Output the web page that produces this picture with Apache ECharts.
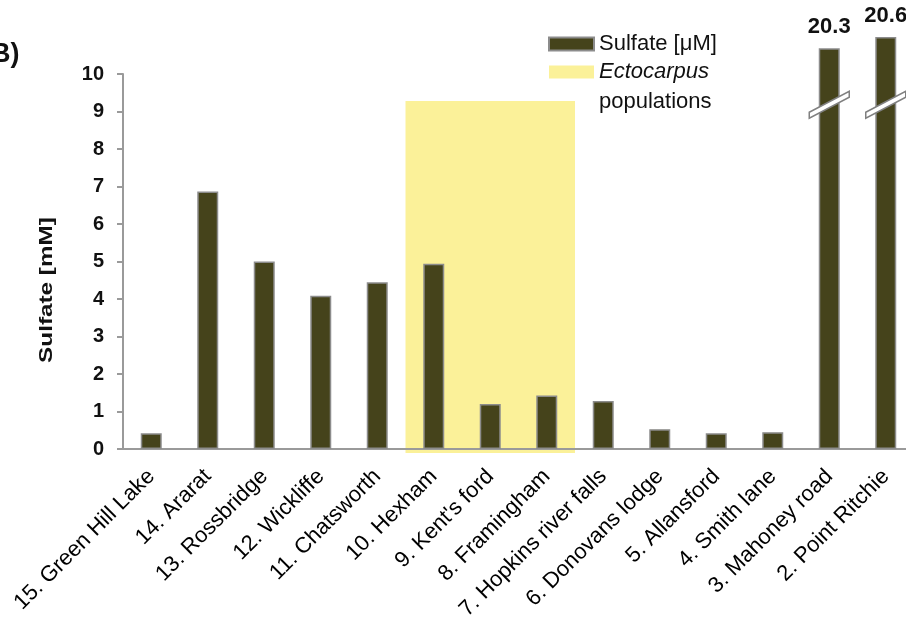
<!DOCTYPE html>
<html>
<head>
<meta charset="utf-8">
<script src="https://cdn.jsdelivr.net/npm/echarts@6/dist/echarts.min.js"></script>
<style>
  html, body { margin: 0; padding: 0; background: #fff; }
  #chart { width: 906px; height: 625px; }
</style>
</head>
<body>
<div id="chart"></div>
<script>
// sites, west to east as in the figure
const sites = [
  '15. Green Hill Lake', '14. Ararat', '13. Rossbridge', '12. Wickliffe',
  '11. Chatsworth', '10. Hexham', "9. Kent's ford", '8. Framingham',
  '7. Hopkins river falls', '6. Donovans lodge', '5. Allansford',
  '4. Smith lane', '3. Mahoney road', '2. Point Ritchie'
]
// sulfate [mM]
const sulfate = [0.42, 6.87, 5.0, 4.09, 4.45, 4.94, 1.2, 1.43, 1.28, 0.53, 0.42, 0.45, 20.3, 20.6]
// sites with Ectocarpus populations (shaded) and height of the shading
const ectocarpusSites = ['10. Hexham', "9. Kent's ford", '8. Framingham']
const ectocarpusTop = 9.28
const yTicks = [0, 10, 1] // min, max, interval

// broken axis: bars above 10 are drawn shifted down
const BREAK_AT = 10
const BREAK_SHIFT = 9.61
const BREAK_MARK = 9.18

const FONT = 'Liberation Sans, Arial, sans-serif'
const BAR = '#45431b'
const YELLOW = '#fbf199'
const GREY = '#9a9a9a'

const barData = sulfate.map(v => v > BREAK_AT
  ? { value: v - BREAK_SHIFT, real: v, label: { show: true } }
  : v)

const shadeData = [[
  sites.indexOf(ectocarpusSites[0]),
  sites.indexOf(ectocarpusSites[ectocarpusSites.length - 1]),
  ectocarpusTop
]]

const breakData = sulfate
  .map((v, i) => [i, BREAK_MARK, v])
  .filter(d => d[2] > BREAK_AT)

const chart = echarts.init(document.getElementById('chart'))

chart.setOption({
  animation: false,
  textStyle: { fontFamily: FONT },
  grid: { left: 123, width: 791, top: 74, bottom: 176, outerBoundsMode: 'none', containLabel: false },
  legend: {
    orient: 'vertical',
    left: 543,
    top: 28,
    padding: 5,
    itemWidth: 45,
    itemHeight: 13,
    itemGap: 6,
    selectedMode: false,
    data: [
      { name: 'Sulfate [μM]', icon: 'rect' },
      { name: 'Ectocarpus populations', icon: 'rect' }
    ],
    formatter: name => name === 'Ectocarpus populations' ? '{i|Ectocarpus}' : name,
    textStyle: {
      fontFamily: FONT,
      fontSize: 22,
      color: '#111',
      rich: { i: { fontStyle: 'italic', fontSize: 22, fontFamily: FONT, color: '#111' } }
    }
  },
  graphic: [
    {
      type: 'text', left: 599, top: 91,
      style: { text: 'populations', font: '22px ' + FONT, fill: '#111' }
    },
    {
      type: 'text', left: -9, top: 41,
      style: { text: 'B)', font: 'bold 27px ' + FONT, fill: '#111' }
    },
    {
      type: 'text', x: 47, y: 290, rotation: Math.PI / 2, scaleX: 1.35,
      style: {
        text: 'Sulfate [mM]', font: 'bold 18px ' + FONT, fill: '#111',
        align: 'center', verticalAlign: 'middle'
      }
    }
  ],
  xAxis: {
    type: 'category',
    data: sites,
    axisLine: { lineStyle: { color: GREY, width: 2 } },
    axisTick: { length: 6, lineStyle: { color: GREY, width: 2 } },
    axisLabel: {
      interval: 0,
      rotate: 45,
      margin: 24,
      fontSize: 22,
      fontFamily: FONT,
      color: '#000'
    }
  },
  yAxis: {
    type: 'value',
    min: yTicks[0],
    max: yTicks[1],
    interval: yTicks[2],
    splitLine: { show: false },
    axisLine: { show: true, lineStyle: { color: GREY, width: 2 } },
    axisTick: { show: true, length: 6, lineStyle: { color: GREY, width: 2 } },
    axisLabel: { fontSize: 20, fontWeight: 'bold', fontFamily: FONT, color: '#111', margin: 19 }
  },
  series: [
    {
      name: 'Ectocarpus populations',
      type: 'custom',
      z: -1,
      clip: false,
      itemStyle: { color: YELLOW },
      data: shadeData,
      renderItem: (params, api) => {
        const band = api.size([1, 0])[0]
        const a = api.coord([api.value(0), api.value(2)])
        const b = api.coord([api.value(1), 0])
        return {
          type: 'rect',
          shape: { x: a[0] - band / 2, y: a[1], width: b[0] - a[0] + band, height: b[1] - a[1] + 4 },
          style: { fill: YELLOW }
        }
      }
    },
    {
      name: 'Sulfate [μM]',
      type: 'bar',
      clip: false,
      barWidth: 21,
      itemStyle: { color: BAR, borderColor: '#8c8c8c', borderWidth: 1.5 },
      label: {
        show: false,
        position: 'top',
        distance: 10,
        fontSize: 22,
        fontWeight: 'bold',
        fontFamily: FONT,
        color: '#111',
        formatter: p => p.data.real.toFixed(1)
      },
      data: barData
    },
    {
      type: 'custom',
      z: 5,
      clip: false,
      silent: true,
      data: breakData,
      renderItem: (params, api) => {
        const c = api.coord([api.value(0), api.value(1)])
        const dx = 20, dy = 10.5, t = 3
        return {
          type: 'polygon',
          shape: {
            points: [
              [c[0] - dx, c[1] + dy - t], [c[0] + dx, c[1] - dy - t],
              [c[0] + dx, c[1] - dy + t], [c[0] - dx, c[1] + dy + t]
            ]
          },
          style: { fill: '#fff', stroke: '#808080', lineWidth: 1.5 }
        }
      }
    }
  ]
})
</script>
</body>
</html>
